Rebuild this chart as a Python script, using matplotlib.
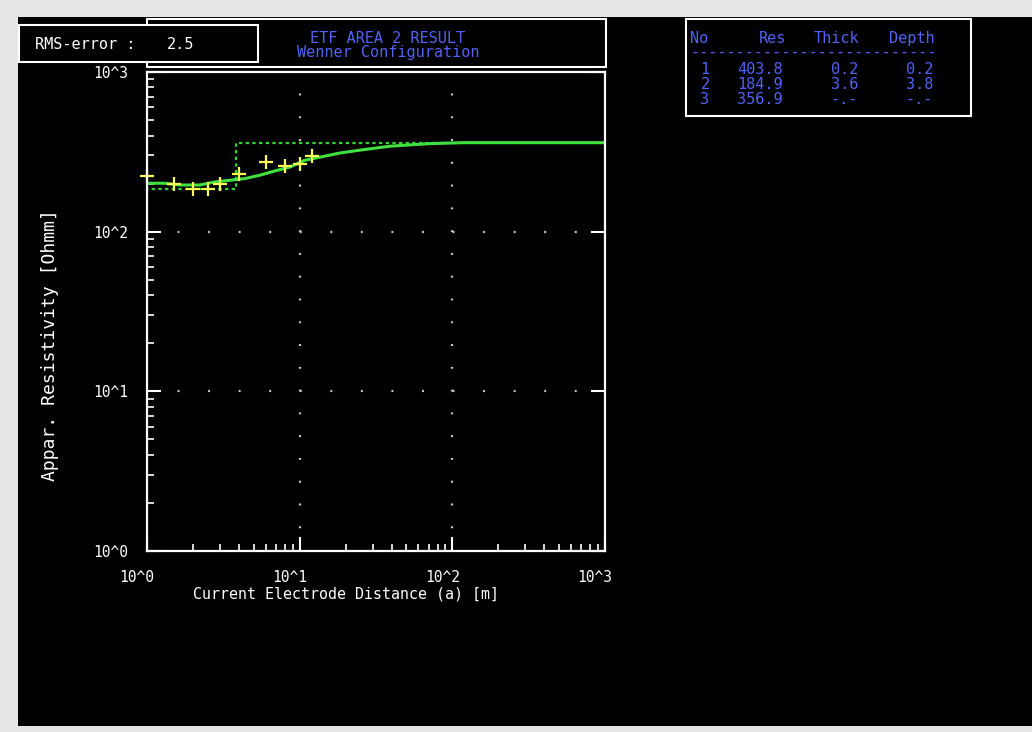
import matplotlib
matplotlib.use("Agg")
import matplotlib.pyplot as plt
import matplotlib.ticker as ticker
from matplotlib.patches import Rectangle
from matplotlib.transforms import ScaledTranslation
import numpy as np

# measured apparent resistivity (yellow crosses)
obs_a = [1.0, 1.5, 2.0, 2.5, 3.0, 4.0, 6.0, 8.0, 10.0, 12.0]
obs_rho = [223, 199, 185, 185, 199, 230, 273, 258, 265, 297]

# calculated curve (solid green)
calc_a = [1.0, 1.31, 1.64, 2.22, 2.79, 3.5, 4.38, 5.5, 6.89, 8.64, 10.8, 13.6,
          18.4, 24.8, 39.0, 71.3, 119, 1000]
calc_rho = [201, 201, 196, 196, 205, 210, 215, 226, 240, 254, 280, 293,
            311, 324, 343, 356, 361, 361]

# layer model (table + dotted step)
layer_no = ["1", "2", "3"]
layer_res = [403.8, 184.9, 356.9]
layer_thick = ["0.2", "3.6", "-.-"]
layer_depth = ["0.2", "3.8", "-.-"]
depths = [0.2, 3.8]

rms_error = "2.5"
title_lines = ["ETF AREA 2 RESULT", "Wenner Configuration"]
decades = [1, 10, 100, 1000]

W, H = 1032, 732
MONO = "DejaVu Sans Mono"
BLUE = "#5262f2"
plt.rcParams["lines.scale_dashes"] = False

fig = plt.figure(figsize=(W / 100, H / 100), dpi=100)
fig.patch.set_facecolor("#e6e6e6")


def px_box(x0, y0, x1, y1):
    # pixel coords (top-left origin) -> figure fraction rectangle
    return (x0 / W, 1 - y1 / H), (x1 - x0) / W, (y1 - y0) / H


def fx(x):
    return x / W


def fy(y):
    return 1 - y / H


# black screen area
xy, w, h = px_box(18, 17, W + 2, 726)
fig.patches.append(Rectangle(xy, w, h, transform=fig.transFigure,
                             facecolor="black", edgecolor="none", zorder=0))

# title box
xy, w, h = px_box(147, 19, 606, 67)
fig.patches.append(Rectangle(xy, w, h, transform=fig.transFigure,
                             facecolor="black", edgecolor="white", lw=1.5, zorder=1))
# rms box
xy, w, h = px_box(19, 25, 258, 62)
fig.patches.append(Rectangle(xy, w, h, transform=fig.transFigure,
                             facecolor="black", edgecolor="white", lw=1.5, zorder=2))
# table box
xy, w, h = px_box(686, 19, 971, 116)
fig.patches.append(Rectangle(xy, w, h, transform=fig.transFigure,
                             facecolor="black", edgecolor="white", lw=1.5, zorder=1))

fig.text(fx(35), fy(49), "RMS-error :", color="white", family=MONO,
         fontsize=11, va="baseline", ha="left", zorder=3)
fig.text(fx(167), fy(49), rms_error, color="white", family=MONO,
         fontsize=11, va="baseline", ha="left", zorder=3)
fig.text(fx(388), fy(43), title_lines[0], color=BLUE, family=MONO,
         fontsize=11, va="baseline", ha="center", zorder=3)
fig.text(fx(388), fy(57), title_lines[1], color=BLUE, family=MONO,
         fontsize=11, va="baseline", ha="center", zorder=3)

# layer table
fs_tab = 11
hy = 43
fig.text(fx(690), fy(hy), "No", color=BLUE, family=MONO, fontsize=fs_tab, va="baseline")
fig.text(fx(786), fy(hy), "Res", color=BLUE, family=MONO, fontsize=fs_tab, va="baseline", ha="right")
fig.text(fx(859), fy(hy), "Thick", color=BLUE, family=MONO, fontsize=fs_tab, va="baseline", ha="right")
fig.text(fx(935), fy(hy), "Depth", color=BLUE, family=MONO, fontsize=fs_tab, va="baseline", ha="right")
fig.text(fx(690), fy(52), "-" * 27, color=BLUE, family=MONO, fontsize=fs_tab, va="center")
row_y = [74, 89, 104]
for i in range(len(layer_no)):
    fig.text(fx(705), fy(row_y[i]), layer_no[i], color=BLUE, family=MONO,
             fontsize=fs_tab, va="baseline", ha="center")
    fig.text(fx(783), fy(row_y[i]), f"{layer_res[i]:.1f}", color=BLUE, family=MONO,
             fontsize=fs_tab, va="baseline", ha="right")
    fig.text(fx(858), fy(row_y[i]), layer_thick[i], color=BLUE, family=MONO,
             fontsize=fs_tab, va="baseline", ha="right")
    fig.text(fx(933), fy(row_y[i]), layer_depth[i], color=BLUE, family=MONO,
             fontsize=fs_tab, va="baseline", ha="right")

# main plot
ax = fig.add_axes([147 / W, 1 - 551 / H, (605 - 147) / W, (551 - 72) / H])
ax.set_facecolor("black")
ax.set_zorder(2)
ax.set_xscale("log")
ax.set_yscale("log")
ax.set_xlim(decades[0], decades[-1])
ax.set_ylim(decades[0], decades[-1])

for s in ax.spines.values():
    s.set_color("white")
    s.set_linewidth(1.6)
    s.set_zorder(5)

# dotted grid at decades
for d in decades[1:-1]:
    ax.axvline(d, color="#c8c8c8", lw=1.6, linestyle=(0, (1.4, 15.0)), zorder=1)
    ax.axhline(d, color="#c8c8c8", lw=1.6, linestyle=(0, (1.4, 20.6)), zorder=1)

# layer model step
step_x = [1e-2] + depths + [1e4]
step_y = layer_res + [layer_res[-1]]
ax.step(step_x, step_y, where="post", color="#2ed62e", lw=1.6,
        linestyle=(0, (2.4, 2.4)), zorder=2)
ax.plot(calc_a, calc_rho, color="#40e040", lw=2.2, zorder=3)
ax.plot(obs_a, obs_rho, linestyle="none", marker="+", markersize=10,
        markeredgewidth=1.6, color="#ffff55", zorder=4, clip_on=False)

fmt = ticker.FuncFormatter(lambda v, p: f"10^{int(round(np.log10(v)))}")
ax.xaxis.set_major_formatter(fmt)
ax.yaxis.set_major_formatter(fmt)
ax.xaxis.set_major_locator(ticker.FixedLocator(decades))
ax.yaxis.set_major_locator(ticker.FixedLocator(decades))
ax.xaxis.set_minor_locator(ticker.LogLocator(base=10, subs=np.arange(2, 10)))
ax.yaxis.set_minor_locator(ticker.LogLocator(base=10, subs=np.arange(2, 10)))
ax.xaxis.set_minor_formatter(ticker.NullFormatter())
ax.yaxis.set_minor_formatter(ticker.NullFormatter())

ax.tick_params(which="major", direction="in", length=10, width=1.5, color="white",
               left=True, right=True, bottom=True, top=False,
               labelcolor="white", labelsize=10.5)
ax.tick_params(which="minor", direction="in", length=5, width=1.2, color="white",
               left=True, right=False, bottom=True, top=False)
ax.tick_params(axis="y", which="major", pad=13.5)
ax.tick_params(axis="x", which="major", pad=14)
for lab in ax.get_xticklabels() + ax.get_yticklabels():
    lab.set_family(MONO)
for lab in ax.get_xticklabels():
    lab.set_transform(lab.get_transform() + ScaledTranslation(-0.10, 0, fig.dpi_scale_trans))

ax.set_xlabel("Current Electrode Distance (a) [m]", color="white", family=MONO, fontsize=10.8)
ax.xaxis.set_label_coords((346 - 147) / 458, (551 - 594) / 479)
ax.xaxis.label.set_va("center")
ax.set_ylabel("Appar. Resistivity [Ohmm]", color="white", family=MONO, fontsize=13)
ax.yaxis.set_label_coords((50 - 147) / 458, (551 - 345) / 479)
ax.yaxis.label.set_va("center")

fig.savefig("out.png", dpi=100, facecolor=fig.get_facecolor())
